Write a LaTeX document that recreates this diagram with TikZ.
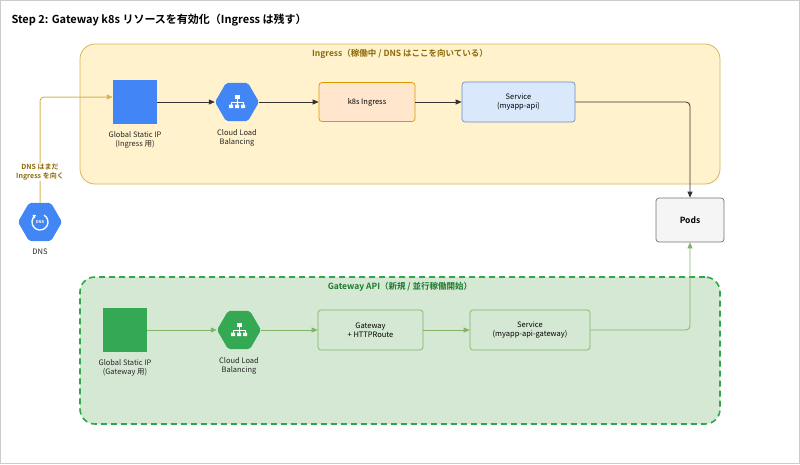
\documentclass[tikz,border=0pt]{standalone}
\usepackage{fontspec}
\setmainfont{Noto Sans CJK JP}[BoldFont={Noto Sans CJK JP Bold}]
\usetikzlibrary{shapes.geometric, arrows.meta, positioning}
\definecolor{ingFill}{HTML}{FFF2CC}
\definecolor{ingLine}{HTML}{D6B656}
\definecolor{ingText}{HTML}{8C6A0A}
\definecolor{gwFill}{HTML}{D5E8D4}
\definecolor{gwLine}{HTML}{82B366}
\definecolor{gwDash}{HTML}{2EA84A}
\definecolor{gwText}{HTML}{1E7B2E}
\definecolor{gBlue}{HTML}{4285F4}
\definecolor{gGreen}{HTML}{34A853}
\definecolor{orFill}{HTML}{FFE6CC}
\definecolor{orLine}{HTML}{D79B00}
\definecolor{svFill}{HTML}{DAE8FC}
\definecolor{svLine}{HTML}{6C8EBF}

\tikzset{
    lbicon/.pic={
        \fill[white] (-2.5,-7) rectangle (2.5,-3.5);
        \draw[white, line width=0.9pt] (0,-3.5) -- (0,0) (-6,0) -- (6,0) (-6,0) -- (-6,2.5) (0,0) -- (0,2.5) (6,0) -- (6,2.5);
        \fill[white] (-8,2.5) rectangle (-4,6) (-2,2.5) rectangle (2,6) (4,2.5) rectangle (8,6);
    }
}

\begin{document}
\begin{tikzpicture}[
        x=1pt, y=-1pt,
        font=\fontsize{7.5}{9}\selectfont,
        >={Triangle[length=6pt, width=5pt]},
        % Styles
        group/.style={draw, rounded corners=15pt, line width=0.8pt},
        card/.style={draw, rounded corners=3pt, align=center, line width=0.7pt},
        tile/.style={minimum size=44pt, inner sep=0pt},
        hexa/.style={regular polygon, regular polygon sides=6, minimum size=44pt, inner sep=0pt, rounded corners=2pt},
        caption/.style={align=center, text=black!85},
        grouplabel/.style={font=\fontsize{8.5}{10}\selectfont\bfseries}
    ]

    \useasboundingbox (0,0) rectangle (800,464);
    \draw[black!20] (0.5,0.5) rectangle (799.5,463.5);

    % --- Title ---
    \node[anchor=west, font=\fontsize{11}{13}\selectfont\bfseries] (title) at (8,20) {Step 2: Gateway k8s リソースを有効化（Ingress は残す）};

    % --- Groups ---
    \node[group, draw=ingLine, fill=ingFill, minimum width=640pt, minimum height=140pt] (ingbox) at (400,114) {};
    \node[grouplabel, text=ingText] (inglabel) at (400,54) {Ingress（稼働中 / DNS はここを向いている）};

    \node[group, draw=gwDash, fill=gwFill, dashed, dash pattern=on 6pt off 4pt, line width=1.6pt, minimum width=640pt, minimum height=147pt] (gwbox) at (400,350.5) {};
    \node[grouplabel, text=gwText] (gwlabel) at (400,287) {Gateway API（新規 / 並行稼働開始）};

    % --- Ingress path ---
    \node[tile, fill=gBlue] (ipA) at (135,102) {};
    \node[caption, below=4pt of ipA] {Global Static IP\\(Ingress 用)};
    \node[hexa, fill=gBlue] (lbA) at (237,102) {};
    \pic at (lbA) {lbicon};
    \node[caption, below=5pt of lbA] {Cloud Load\\Balancing};
    \node[card, fill=orFill, draw=orLine, minimum width=96pt, minimum height=39pt] (ing) at (367,102) {k8s Ingress};
    \node[card, fill=svFill, draw=svLine, minimum width=113pt, minimum height=40pt] (svcA) at (518.5,102) {Service\\(myapp-api)};

    % --- Pods ---
    \node[card, fill=black!4, draw=black!55, minimum width=68pt, minimum height=44pt, font=\fontsize{8.5}{10}\selectfont\bfseries] (pods) at (690,220) {Pods};

    % --- Gateway path ---
    \node[tile, fill=gGreen] (ipB) at (125,330) {};
    \node[caption, below=4pt of ipB] {Global Static IP\\(Gateway 用)};
    \node[hexa, fill=gGreen] (lbB) at (239,330) {};
    \pic at (lbB) {lbicon};
    \node[caption, below=5pt of lbB] {Cloud Load\\Balancing};
    \node[card, fill=gwFill, draw=gwLine, minimum width=105pt, minimum height=40pt] (gw) at (370.5,330) {Gateway\\+ HTTPRoute};
    \node[card, fill=gwFill, draw=gwLine, minimum width=120pt, minimum height=40pt] (svcB) at (530,330) {Service\\(myapp-api-gateway)};

    % --- DNS ---
    \node[hexa, fill=gBlue] (dns) at (40,222) {};
    \draw[white, line width=1.3pt, -{Triangle[length=3pt, width=4pt]}] ([shift={(-60:8)}]dns.center) arc[start angle=-60, end angle=240, radius=8];
    \node[white, font=\fontsize{4}{4}\selectfont\bfseries] at (dns.center) {DNS};
    \node[caption, below=4pt of dns] {DNS};

    % --- Arrows ---
    \draw[->, ingLine, line width=1pt, rounded corners=4pt] (dns.north) -- (40,97) -- (ipA.west |- 0,97);
    \node[font=\fontsize{7}{8.5}\selectfont\bfseries, text=ingText, align=center, fill=white, inner sep=1pt] (dnsnote) at (40,172) {DNS はまだ\\Ingress を向く};

    \draw[->, black!80, line width=0.8pt] (ipA) -- (lbA);
    \draw[->, black!80, line width=0.8pt] (lbA) -- (ing);
    \draw[->, black!80, line width=0.8pt] (ing) -- (svcA);
    \draw[->, black!80, line width=0.8pt, rounded corners=4pt] (svcA.east) -| (pods.north);

    \draw[->, gwLine, line width=1pt] (ipB) -- (lbB);
    \draw[->, gwLine, line width=0.8pt] (lbB) -- (gw);
    \draw[->, gwLine, line width=0.8pt] (gw) -- (svcB);
    \draw[->, gwLine, line width=0.8pt, rounded corners=4pt] (svcB.east) -| (pods.south);

\end{tikzpicture}
\end{document}
